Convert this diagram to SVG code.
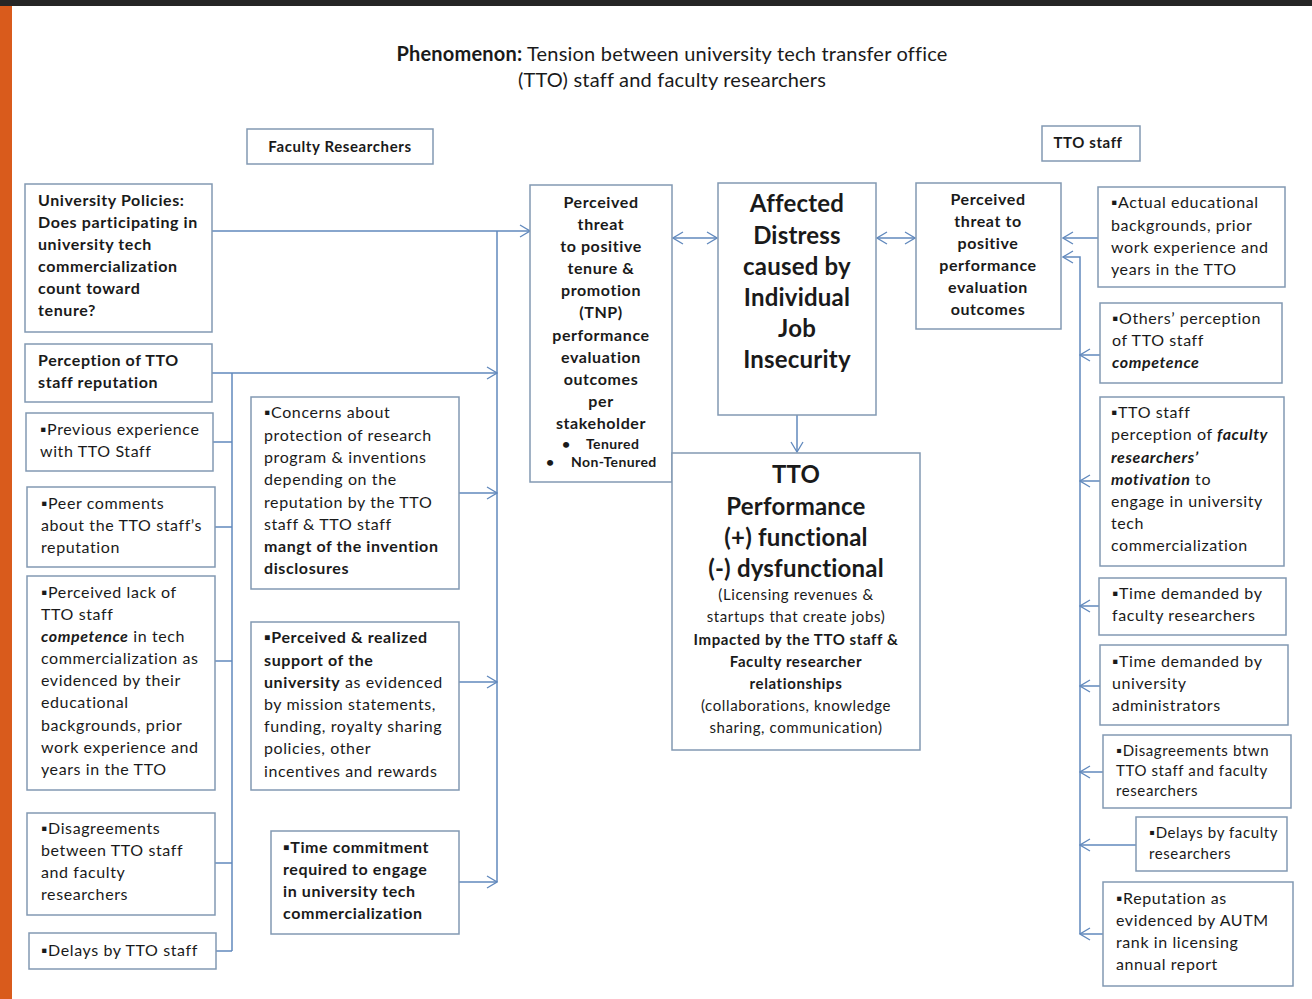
<svg xmlns="http://www.w3.org/2000/svg" width="1312" height="999" viewBox="0 0 1312 999">
<defs>
<style>
text{font-family:Lato,"Open Sans","Liberation Sans",sans-serif;fill:#1a1a1a;font-size:16px;letter-spacing:0.6px}
.b{font-weight:bold}
.bi{font-weight:bold;font-style:italic}
.c{text-anchor:middle}
.big{font-size:24px;font-weight:bold;letter-spacing:0.2px}
.sm{font-size:14px;letter-spacing:0.4px}
.s15{font-size:15px}
.ttl{font-size:20px;letter-spacing:0.2px}
.box{fill:#fff;stroke:#8299b3;stroke-width:1.5}
.ln{fill:none;stroke:#6189bd;stroke-width:1.5}
</style>
<marker id="ah" viewBox="0 0 12 14" refX="11" refY="7" markerWidth="12" markerHeight="14" markerUnits="userSpaceOnUse" orient="auto-start-reverse">
<path d="M1,1 L11,7 L1,13" fill="none" stroke="#6189bd" stroke-width="1.3"/>
</marker>
</defs>
<rect width="1312" height="999" fill="#fff"/>
<rect x="0" y="0" width="1312" height="6" fill="#262626"/>
<rect x="0" y="6" width="12" height="993" fill="#d95b1c"/>

<g id="title">
<text x="672" y="61" class="c ttl"><tspan class="b">Phenomenon:</tspan> Tension between university tech transfer office</text>
<text x="672" y="87" class="c ttl">(TTO) staff and faculty researchers</text>
</g>

<g id="connectors">
<polyline class="ln" points="212,231 530,231" marker-end="url(#ah)"/>
<line class="ln" x1="497" y1="231" x2="497" y2="882"/>
<polyline class="ln" points="212,373 497,373" marker-end="url(#ah)"/>
<line class="ln" x1="232" y1="373" x2="232" y2="951"/>
<line class="ln" x1="213" y1="442" x2="232" y2="442"/>
<line class="ln" x1="215" y1="527" x2="232" y2="527"/>
<line class="ln" x1="215" y1="661" x2="232" y2="661"/>
<line class="ln" x1="215" y1="863" x2="232" y2="863"/>
<line class="ln" x1="216" y1="951" x2="232" y2="951"/>
<line class="ln" x1="459" y1="493" x2="497" y2="493" marker-end="url(#ah)"/>
<line class="ln" x1="459" y1="682" x2="497" y2="682" marker-end="url(#ah)"/>
<line class="ln" x1="459" y1="882" x2="497" y2="882" marker-end="url(#ah)"/>
<line class="ln" x1="673" y1="238" x2="717" y2="238" marker-start="url(#ah)" marker-end="url(#ah)"/>
<line class="ln" x1="877" y1="238" x2="915" y2="238" marker-start="url(#ah)" marker-end="url(#ah)"/>
<line class="ln" x1="797" y1="415" x2="797" y2="452" marker-end="url(#ah)"/>
<line class="ln" x1="1098" y1="238" x2="1063" y2="238" marker-end="url(#ah)"/>
<polyline class="ln" points="1080,934 1080,257 1063,257" marker-end="url(#ah)"/>
<line class="ln" x1="1100" y1="355" x2="1080" y2="355" marker-end="url(#ah)"/>
<line class="ln" x1="1100" y1="481" x2="1080" y2="481" marker-end="url(#ah)"/>
<line class="ln" x1="1099" y1="606" x2="1080" y2="606" marker-end="url(#ah)"/>
<line class="ln" x1="1100" y1="686" x2="1080" y2="686" marker-end="url(#ah)"/>
<line class="ln" x1="1103" y1="772" x2="1080" y2="772" marker-end="url(#ah)"/>
<line class="ln" x1="1136" y1="845" x2="1080" y2="845" marker-end="url(#ah)"/>
<line class="ln" x1="1103" y1="934" x2="1080" y2="934" marker-end="url(#ah)"/>
</g>

<g id="faculty-researchers">
<rect class="box" x="247" y="129" width="186" height="35"/>
<text x="340" y="152" class="c b s15">Faculty Researchers</text>
</g>
<g id="tto-staff">
<rect class="box" x="1042" y="126" width="98" height="35"/>
<text x="1088" y="148" class="c b s15">TTO staff</text>
</g>

<g id="university-policies">
<rect class="box" x="25" y="184" width="187" height="148"/>
<text class="b" x="38" y="206">University Policies:</text>
<text class="b" x="38" y="228">Does participating  in</text>
<text class="b" x="38" y="250">university tech</text>
<text class="b" x="38" y="272">commercialization</text>
<text class="b" x="38" y="294">count toward</text>
<text class="b" x="38" y="316">tenure?</text>
</g>
<g id="perception-reputation">
<rect class="box" x="25" y="344" width="187" height="58"/>
<text class="b" x="38" y="366">Perception of TTO</text>
<text class="b" x="38" y="388">staff reputation</text>
</g>
<g id="previous-experience">
<rect class="box" x="26" y="413" width="187" height="58"/>
<text x="40" y="435">▪Previous experience</text>
<text x="40" y="457">with TTO Staff</text>
</g>
<g id="peer-comments">
<rect class="box" x="27" y="487" width="188" height="80"/>
<text x="41" y="509">▪Peer  comments</text>
<text x="41" y="531">about the TTO staff’s</text>
<text x="41" y="553">reputation</text>
</g>
<g id="perceived-lack">
<rect class="box" x="27" y="576" width="188" height="214"/>
<text x="41" y="598">▪Perceived lack of</text>
<text x="41" y="620">TTO staff</text>
<text x="41" y="642"><tspan class="bi">competence</tspan>  in tech</text>
<text x="41" y="664">commercialization as</text>
<text x="41" y="686">evidenced by their</text>
<text x="41" y="708">educational</text>
<text x="41" y="731">backgrounds, prior</text>
<text x="41" y="753">work experience and</text>
<text x="41" y="775">years in the TTO</text>
</g>
<g id="disagreements-left">
<rect class="box" x="27" y="813" width="188" height="102"/>
<text x="41" y="834">▪Disagreements</text>
<text x="41" y="856">between  TTO staff</text>
<text x="41" y="878">and faculty</text>
<text x="41" y="900"> researchers</text>
</g>
<g id="delays-tto">
<rect class="box" x="29" y="933" width="187" height="36"/>
<text x="41" y="956">▪Delays by TTO staff</text>
</g>

<g id="concerns">
<rect class="box" x="251" y="397" width="208" height="192"/>
<text x="264" y="418">▪Concerns about</text>
<text x="264" y="441">protection of research</text>
<text x="264" y="463">program &amp; inventions</text>
<text x="264" y="485">depending on the</text>
<text x="264" y="508">reputation by the TTO</text>
<text x="264" y="530">staff &amp; TTO staff</text>
<text class="b" x="264" y="552">mangt of the invention</text>
<text class="b" x="264" y="574">disclosures</text>
</g>
<g id="perceived-support">
<rect class="box" x="251" y="622" width="208" height="168"/>
<text class="b" x="264" y="643">▪Perceived &amp; realized</text>
<text class="b" x="264" y="666">support of the</text>
<text x="264" y="688"><tspan class="b">university</tspan> as evidenced</text>
<text x="264" y="710">by mission statements,</text>
<text x="264" y="732">funding, royalty sharing</text>
<text x="264" y="754">policies, other</text>
<text x="264" y="777">incentives and rewards</text>
</g>
<g id="time-commitment">
<rect class="box" x="271" y="831" width="188" height="103"/>
<text class="b" x="283" y="853">▪Time commitment</text>
<text class="b" x="283" y="875">required to engage</text>
<text class="b" x="283" y="897">in university tech</text>
<text class="b" x="283" y="919">commercialization</text>
</g>

<g id="threat-tnp">
<rect class="box" x="530" y="185" width="142" height="297"/>
<text class="b c" x="601" y="208">Perceived</text>
<text class="b c" x="601" y="230">threat</text>
<text class="b c" x="601" y="252">to positive</text>
<text class="b c" x="601" y="274">tenure &amp;</text>
<text class="b c" x="601" y="296">promotion</text>
<text class="b c" x="601" y="318">(TNP)</text>
<text class="b c" x="601" y="341">performance</text>
<text class="b c" x="601" y="363">evaluation</text>
<text class="b c" x="601" y="385">outcomes</text>
<text class="b c" x="601" y="407">per</text>
<text class="b c" x="601" y="429">stakeholder</text>
<text class="b sm" x="562" y="449">•</text>
<text class="b sm" x="586" y="449">Tenured</text>
<text class="b sm" x="546" y="467">•</text>
<text class="b sm" x="571" y="467">Non-Tenured</text>
</g>

<g id="affected-distress">
<rect class="box" x="718" y="183" width="158" height="232"/>
<text class="big c" x="797" y="212">Affected</text>
<text class="big c" x="797" y="244">Distress</text>
<text class="big c" x="797" y="275">caused by</text>
<text class="big c" x="797" y="306">Individual</text>
<text class="big c" x="797" y="337">Job</text>
<text class="big c" x="797" y="368">Insecurity</text>
</g>

<g id="threat-performance">
<rect class="box" x="916" y="183" width="145" height="146"/>
<text class="b c" x="988" y="205">Perceived</text>
<text class="b c" x="988" y="227">threat to</text>
<text class="b c" x="988" y="249">positive</text>
<text class="b c" x="988" y="271">performance</text>
<text class="b c" x="988" y="293">evaluation</text>
<text class="b c" x="988" y="315">outcomes</text>
</g>

<g id="tto-performance">
<rect class="box" x="672" y="453" width="248" height="297"/>
<text class="big c" x="796" y="483">TTO</text>
<text class="big c" x="796" y="515">Performance</text>
<text class="big c" x="796" y="546">(+) functional</text>
<text class="big c" x="796" y="577">(-) dysfunctional</text>
<text class="c s15" x="796" y="600">(Licensing revenues &amp;</text>
<text class="c s15" x="796" y="622">startups that create jobs)</text>
<text class="b c s15" x="796" y="645">Impacted by the TTO staff &amp;</text>
<text class="b c s15" x="796" y="667">Faculty  researcher</text>
<text class="b c s15" x="796" y="689">relationships</text>
<text class="c s15" x="796" y="711">(collaborations, knowledge</text>
<text class="c s15" x="796" y="733">sharing, communication)</text>
</g>

<g id="actual-educational">
<rect class="box" x="1098" y="187" width="187" height="100"/>
<text x="1111" y="208">▪Actual educational</text>
<text x="1111" y="231">backgrounds, prior</text>
<text x="1111" y="253">work experience and</text>
<text x="1111" y="275">years in the TTO</text>
</g>
<g id="others-perception">
<rect class="box" x="1100" y="303" width="182" height="80"/>
<text x="1112" y="324">▪Others’ perception</text>
<text x="1112" y="346">of TTO staff</text>
<text class="bi" x="1112" y="368">competence</text>
</g>
<g id="tto-perception-motivation">
<rect class="box" x="1100" y="397" width="184" height="169"/>
<text x="1111" y="418">▪TTO staff</text>
<text x="1111" y="440">perception of <tspan class="bi">faculty</tspan></text>
<text class="bi" x="1111" y="463">researchers’</text>
<text x="1111" y="485"><tspan class="bi">motivation</tspan> to</text>
<text x="1111" y="507">engage in university</text>
<text x="1111" y="529">tech</text>
<text x="1111" y="551">commercialization</text>
</g>
<g id="time-faculty">
<rect class="box" x="1099" y="578" width="187" height="57"/>
<text x="1112" y="599">▪Time demanded by</text>
<text x="1112" y="621">faculty researchers</text>
</g>
<g id="time-admin">
<rect class="box" x="1100" y="645" width="188" height="80"/>
<text x="1112" y="667">▪Time demanded by</text>
<text x="1112" y="689">university</text>
<text x="1112" y="711">administrators</text>
</g>
<g id="disagreements-right">
<rect class="box" x="1103" y="735" width="188" height="73"/>
<text class="s15" x="1116" y="756">▪Disagreements btwn</text>
<text class="s15" x="1116" y="776">TTO staff and faculty</text>
<text class="s15" x="1116" y="796">researchers</text>
</g>
<g id="delays-faculty">
<rect class="box" x="1136" y="817" width="151" height="54"/>
<text class="s15" x="1149" y="838">▪Delays by faculty</text>
<text class="s15" x="1149" y="859">researchers</text>
</g>
<g id="reputation-autm">
<rect class="box" x="1103" y="882" width="190" height="104"/>
<text x="1116" y="904">▪Reputation as</text>
<text x="1116" y="926">evidenced  by AUTM</text>
<text x="1116" y="948">rank in licensing</text>
<text x="1116" y="970">annual report</text>
</g>
</svg>
